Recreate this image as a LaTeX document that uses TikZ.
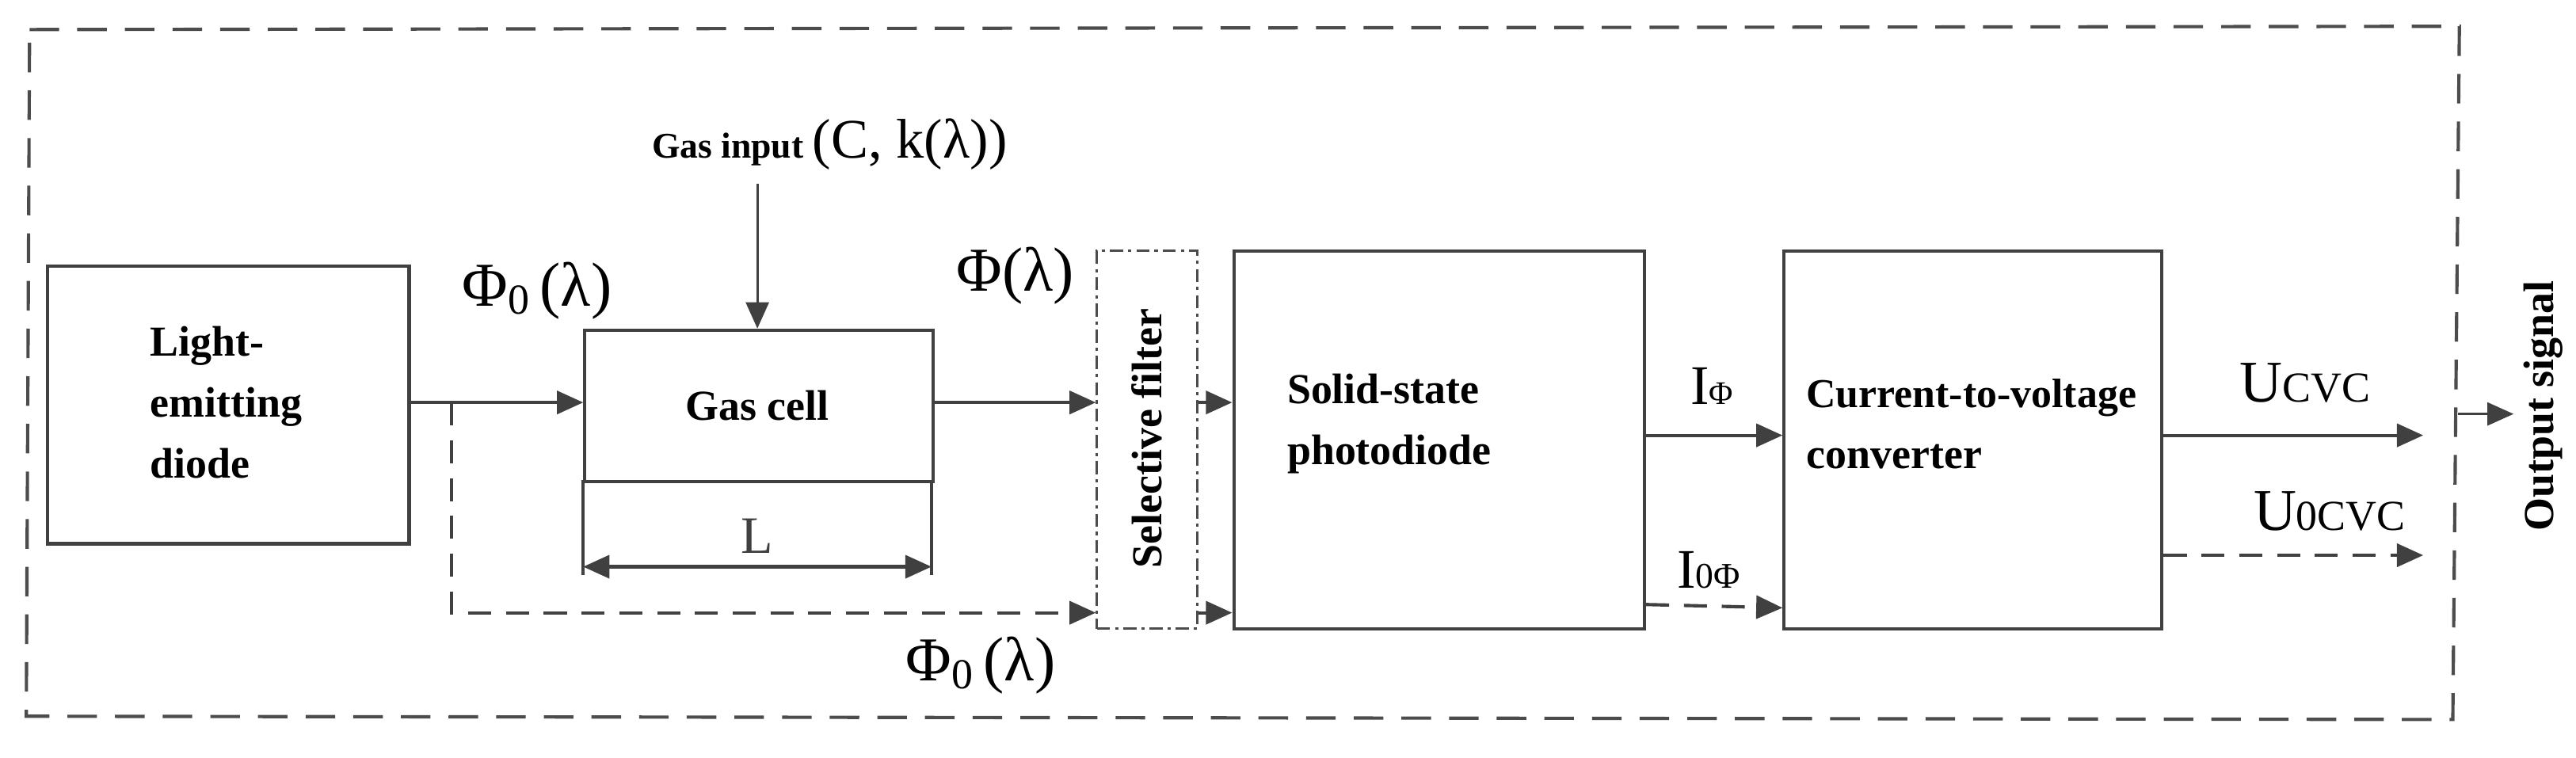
\documentclass[tikz,border=0pt]{standalone}
\usepackage{fontspec}
\setmainfont{Liberation Serif}
\usetikzlibrary{arrows.meta}
\begin{document}
\begin{tikzpicture}[x=1pt,y=-1pt,
  box/.style={draw=black!75,line width=2pt,fill=white},
  lab/.style={font=\fontsize{26}{37}\selectfont\bfseries,align=left},
  sym/.style={font=\fontsize{38}{38}\selectfont,inner sep=0},
  arr/.style={draw=black!75,line width=2pt,-{Triangle[length=16pt,width=14pt]}},
  dsh/.style={arr,dash pattern=on 14pt off 9pt}]
\useasboundingbox (0,0) rectangle (1568,461);
\draw[black!70,line width=2pt,dash pattern=on 18pt off 11pt] (18,18) -- (1497,16) -- (1493,438) -- (16,436) -- cycle;
\node[box,minimum width=220,minimum height=169,anchor=north west] (led) at (28,161) {};
\node[lab,anchor=west] at (88,245) {Light-\\emitting\\diode};
\node[box,minimum width=212,minimum height=92,anchor=north west] (gc) at (355,200) {};
\node[lab] at (461,247) {Gas cell};
\draw[black!75,line width=2pt] (355,292) -- (355,350) (567,292) -- (567,350);
\draw[black!75,line width=2pt,{Triangle[length=16pt,width=14pt]}-{Triangle[length=16pt,width=14pt]}] (355,345) -- node[above=4pt,font=\fontsize{32}{32}\selectfont]{L} (567,345);
\node (gi) at (505,88) {\fontsize{22}{22}\selectfont\bfseries Gas input \fontsize{34}{34}\mdseries(C, k(λ))};
\coordinate (gia) at (461,112);
\draw[arr,line width=1.4pt] (gia) -- (gc.north -| gia);
\node[sym] at (327,177) {Φ\raisebox{-5pt}{\fontsize{26}{26}\selectfont 0}\,(λ)};
\draw[arr] (led.east |- 0,245) -- (gc.west |- 0,245);
\node[sym] at (618,168) {Φ(λ)};
\node[draw=black!70,line width=1.4pt,dash pattern=on 8pt off 3pt on 2pt off 3pt,minimum width=61,minimum height=230,anchor=north west] (sf) at (667,152) {};
\node[lab,rotate=90] at (698,267) {Selective filter};
\draw[arr] (gc.east |- 0,245) -- (sf.west |- 0,245);
\node[box,minimum width=250,minimum height=230,anchor=north west] (pd) at (750,152) {};
\node[lab,anchor=west] at (780,258) {Solid-state\\photodiode};
\draw[arr] (sf.east |- 0,245) -- (pd.west |- 0,245);
\draw[arr] (sf.east |- 0,373) -- (pd.west |- 0,373);
\coordinate (d1) at (275,245);
\coordinate (d2) at (275,373);
\draw[dsh] (d1) -- (d2) -- (sf.west |- d2);
\node[sym] at (597,405) {Φ\raisebox{-5pt}{\fontsize{26}{26}\selectfont 0}\,(λ)};
\node[box,minimum width=230,minimum height=230,anchor=north west] (cvc) at (1085,152) {};
\node[lab,anchor=west] at (1096,258) {\fontsize{25}{37}\selectfont Current-to-voltage\\converter};
\draw[arr] (pd.east |- 0,265) -- (cvc.west |- 0,265);
\node at (1042,235) {\fontsize{34}{34}\selectfont I\fontsize{20}{20}\selectfont Φ};
\draw[dsh] (pd.east |- 0,368) -- (cvc.west |- 0,370);
\node at (1040,347) {\fontsize{34}{34}\selectfont I\fontsize{22}{22}\selectfont 0Φ};
\coordinate (uo) at (1475,265);
\coordinate (u0) at (1475,338);
\draw[arr] (cvc.east |- uo) -- (uo);
\node at (1403,233) {\fontsize{36}{36}\selectfont U\fontsize{26}{26}\selectfont CVC};
\draw[dsh] (cvc.east |- u0) -- (u0);
\node at (1418,311) {\fontsize{36}{36}\selectfont U\fontsize{26}{26}\selectfont 0CVC};
\coordinate (o1) at (1496,252);
\coordinate (o2) at (1530,252);
\draw[arr,line width=1.4pt] (o1) -- (o2);
\node[lab,rotate=90] at (1548,247) {Output signal};
\end{tikzpicture}
\end{document}
